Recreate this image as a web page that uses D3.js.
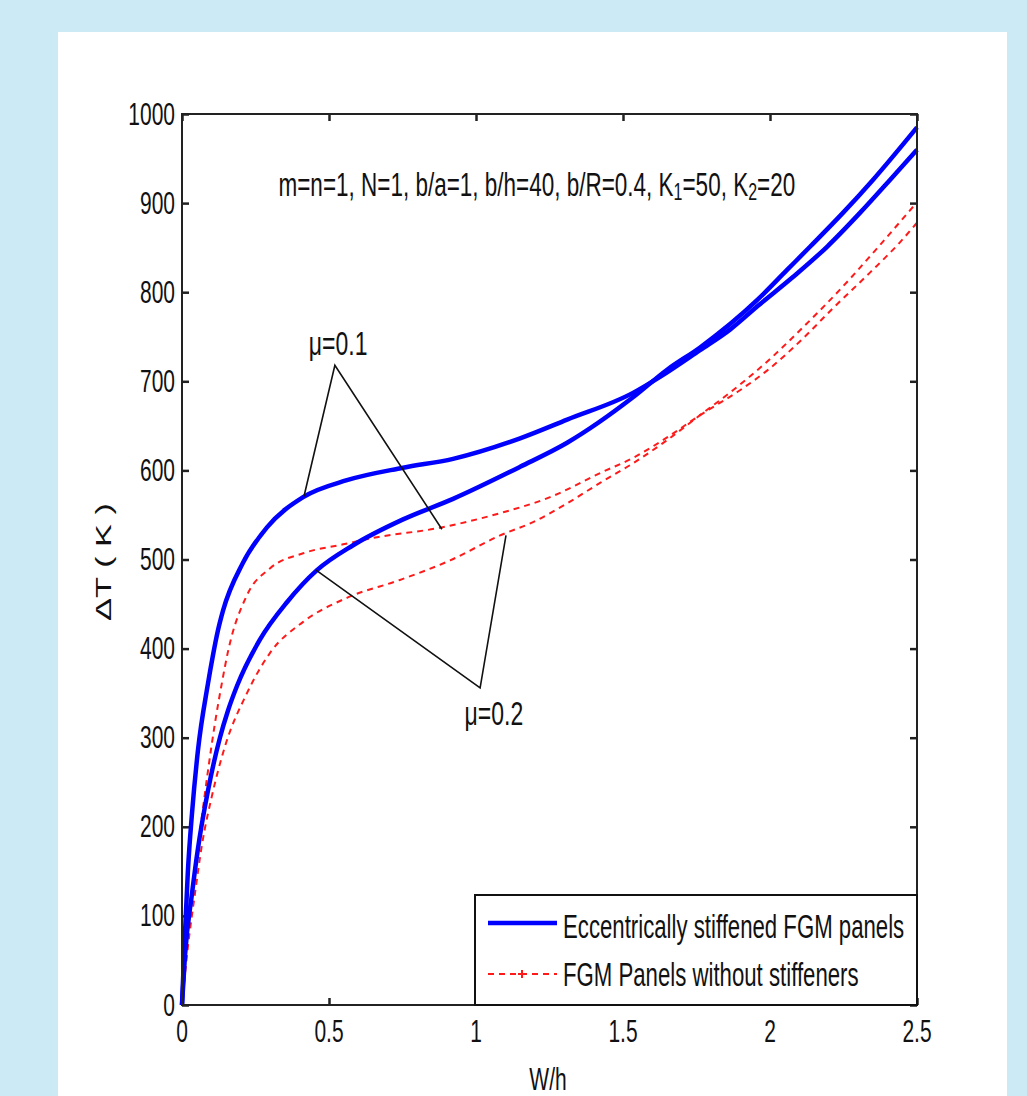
<!DOCTYPE html>
<html>
<head>
<meta charset="utf-8">
<script src="https://cdn.jsdelivr.net/npm/d3@7"></script>
<style>
  html, body { margin: 0; padding: 0; background: #cce9f6; }
  svg text { font-family: "Liberation Sans", Arial, sans-serif; fill: #111; }
</style>
</head>
<body>
<div id="chart"></div>
<script>
// values (W/h, deltaT in K)
const xTicks = [0, 0.5, 1, 1.5, 2, 2.5];
const yTicks = [0, 100, 200, 300, 400, 500, 600, 700, 800, 900, 1000];

const stiffMu01X = [0, 0.010, 0.020, 0.034, 0.054, 0.088, 0.105, 0.122, 0.139, 0.207, 0.289, 0.412, 0.561, 0.752, 0.922, 1.150, 1.310, 1.534, 1.626, 1.762, 1.864, 1.960, 2.078, 2.194, 2.306, 2.408, 2.5];
const stiffMu01Y = [0, 80, 150, 215, 285, 360, 392, 420, 442, 496, 536, 570, 589, 603, 613, 636, 657, 687, 705, 735, 758, 785, 817, 851, 889, 926, 960];

const stiffMu02X = [0, 0.010, 0.034, 0.054, 0.088, 0.129, 0.156, 0.187, 0.265, 0.357, 0.459, 0.582, 0.752, 0.922, 1.150, 1.310, 1.534, 1.650, 1.762, 1.956, 2.058, 2.136, 2.248, 2.350, 2.5];
const stiffMu02Y = [0, 55, 125, 175, 240, 300, 330, 358, 410, 452, 488, 516, 545, 568, 604, 631, 682, 713, 738, 791, 825, 851, 889, 926, 985];

const plainMu01X = [0, 0.020, 0.044, 0.068, 0.088, 0.112, 0.136, 0.156, 0.221, 0.299, 0.412, 0.548, 0.663, 0.867, 1.082, 1.252, 1.422, 1.534, 1.650, 1.762, 1.898, 1.990, 2.112, 2.214, 2.340, 2.442, 2.5];
const plainMu01Y = [0, 75, 150, 212, 262, 316, 362, 396, 460, 490, 507, 517, 525, 535, 552, 570, 597, 614, 637, 662, 690, 712, 748, 782, 822, 856, 878];

const plainMu02X = [0, 0.020, 0.044, 0.068, 0.102, 0.146, 0.221, 0.299, 0.412, 0.561, 0.741, 0.912, 1.082, 1.194, 1.310, 1.422, 1.534, 1.650, 1.762, 1.874, 1.990, 2.092, 2.272, 2.374, 2.5];
const plainMu02Y = [0, 65, 125, 180, 235, 290, 350, 395, 430, 457, 477, 499, 527, 542, 563, 586, 608, 634, 662, 690, 722, 754, 815, 853, 901];

const legendLabels = ["Eccentrically stiffened FGM panels", "FGM Panels without stiffeners"];

// annotation pointers: [end1, apex, end2] in data units
const mu01Pointer = [[0.415, 571], [0.520, 718], [0.884, 534]];
const mu02Pointer = [[0.456, 488], [1.014, 356], [1.102, 527]];

const W = 1027, H = 1096;
const margin = {left: 182, top: 114, right: W - 917, bottom: H - 1005};
const SY = 1.46; // the source text is tall and narrow

const svg = d3.select("#chart").append("svg")
    .attr("width", W)
    .attr("height", H);

// white panel
svg.append("rect")
    .attr("x", 58).attr("y", 32)
    .attr("width", 949).attr("height", H - 32)
    .attr("fill", "#fff");

const x = d3.scaleLinear().domain([0, 2.5]).range([margin.left, W - margin.right]);
const y = d3.scaleLinear().domain([0, 1000]).range([H - margin.bottom, margin.top]);

function tallText(g, px, py, str, size, anchor) {
    return g.append("text")
        .attr("transform", `translate(${px},${py}) scale(1,${SY})`)
        .attr("text-anchor", anchor || "middle")
        .attr("dominant-baseline", "central")
        .style("font-size", size + "px")
        .text(str);
}

// axes with inward ticks on all four sides
const axisG = svg.append("g");
axisG.append("g")
    .attr("transform", `translate(${x(0)},0)`)
    .call(d3.axisLeft(y).tickValues(yTicks).tickSizeInner(-7).tickSizeOuter(0).tickFormat(""));
axisG.append("g")
    .attr("transform", `translate(${x(2.5)},0)`)
    .call(d3.axisRight(y).tickValues(yTicks).tickSizeInner(-7).tickSizeOuter(0).tickFormat(""));
axisG.append("g")
    .attr("transform", `translate(0,${y(0)})`)
    .call(d3.axisBottom(x).tickValues(xTicks).tickSizeInner(-7).tickSizeOuter(0).tickFormat(""));
axisG.append("g")
    .attr("transform", `translate(0,${y(1000)})`)
    .call(d3.axisTop(x).tickValues(xTicks).tickSizeInner(-7).tickSizeOuter(0).tickFormat(""));
axisG.selectAll(".domain").remove();
axisG.selectAll(".tick line").attr("stroke", "#222").attr("stroke-width", 2.5);

// tick labels
yTicks.forEach(v => tallText(svg, x(0) - 7, y(v), String(v), 21, "end"));
xTicks.forEach(v => tallText(svg, x(v), y(0) + 26, String(v), 21, "middle"));

// curves
const line = d3.line()
    .x(d => x(d[0]))
    .y(d => y(d[1]))
    .curve(d3.curveMonotoneX);

function pairs(xs, ys) { return xs.map((v, i) => [v, ys[i]]); }

const plotG = svg.append("g");
[[plainMu01X, plainMu01Y], [plainMu02X, plainMu02Y]].forEach(s => {
    plotG.append("path")
        .datum(pairs(s[0], s[1]))
        .attr("d", line)
        .attr("fill", "none")
        .attr("stroke", "#ff1a1a")
        .attr("stroke-width", 2)
        .attr("stroke-dasharray", "6,5");
});
[[stiffMu01X, stiffMu01Y], [stiffMu02X, stiffMu02Y]].forEach(s => {
    plotG.append("path")
        .datum(pairs(s[0], s[1]))
        .attr("d", line)
        .attr("fill", "none")
        .attr("stroke", "#0000ff")
        .attr("stroke-width", 4.5);
});

// pointer lines and labels
const pointer = d3.line().x(d => x(d[0])).y(d => y(d[1]));
[mu01Pointer, mu02Pointer].forEach(p => {
    plotG.append("path")
        .attr("d", pointer(p))
        .attr("fill", "none")
        .attr("stroke", "#111")
        .attr("stroke-width", 1.6);
});
tallText(svg, x(0.531), y(743), "\u03bc=0.1", 23, "middle");
tallText(svg, x(1.061), y(327), "\u03bc=0.2", 23, "middle");

// parameter text with subscripts
const param = svg.append("text")
    .attr("transform", `translate(${x(1.207)},${y(921)}) scale(1,${SY})`)
    .attr("text-anchor", "middle")
    .attr("dominant-baseline", "central")
    .style("font-size", "22.5px");
param.append("tspan").text("m=n=1, N=1, b/a=1, b/h=40, b/R=0.4, K");
param.append("tspan").attr("dy", 5).style("font-size", "16px").text("1");
param.append("tspan").attr("dy", -5).text("=50, K");
param.append("tspan").attr("dy", 5).style("font-size", "16px").text("2");
param.append("tspan").attr("dy", -5).text("=20");

// frame
svg.append("rect")
    .attr("x", x(0)).attr("y", y(1000))
    .attr("width", x(2.5) - x(0)).attr("height", y(0) - y(1000))
    .attr("fill", "none")
    .attr("stroke", "#222")
    .attr("stroke-width", 2);

// legend
const lg = svg.append("g");
lg.append("rect")
    .attr("x", 475).attr("y", 895)
    .attr("width", x(2.5) - 475).attr("height", y(0) - 895)
    .attr("fill", "#fff")
    .attr("stroke", "#111")
    .attr("stroke-width", 2);
lg.append("line")
    .attr("x1", 488).attr("x2", 557).attr("y1", 923).attr("y2", 923)
    .attr("stroke", "#0000ff").attr("stroke-width", 4.5);
lg.append("line")
    .attr("x1", 488).attr("x2", 557).attr("y1", 974).attr("y2", 974)
    .attr("stroke", "#ff1a1a").attr("stroke-width", 2).attr("stroke-dasharray", "6,5");
lg.append("path")
    .attr("d", "M518,974h8M522,970v8")
    .attr("stroke", "#ff1a1a").attr("stroke-width", 2);
tallText(lg, 563, 927, legendLabels[0], 22.2, "start");
tallText(lg, 563, 975, legendLabels[1], 22.2, "start");

// axis titles
tallText(svg, 548, 1079, "W/h", 21, "middle");
svg.append("text")
    .attr("transform", `translate(103,562) rotate(-90) scale(1.5,1)`)
    .attr("text-anchor", "middle")
    .attr("dominant-baseline", "central")
    .style("font-size", "23px")
    .text("\u0394T ( K )");
</script>
</body>
</html>
